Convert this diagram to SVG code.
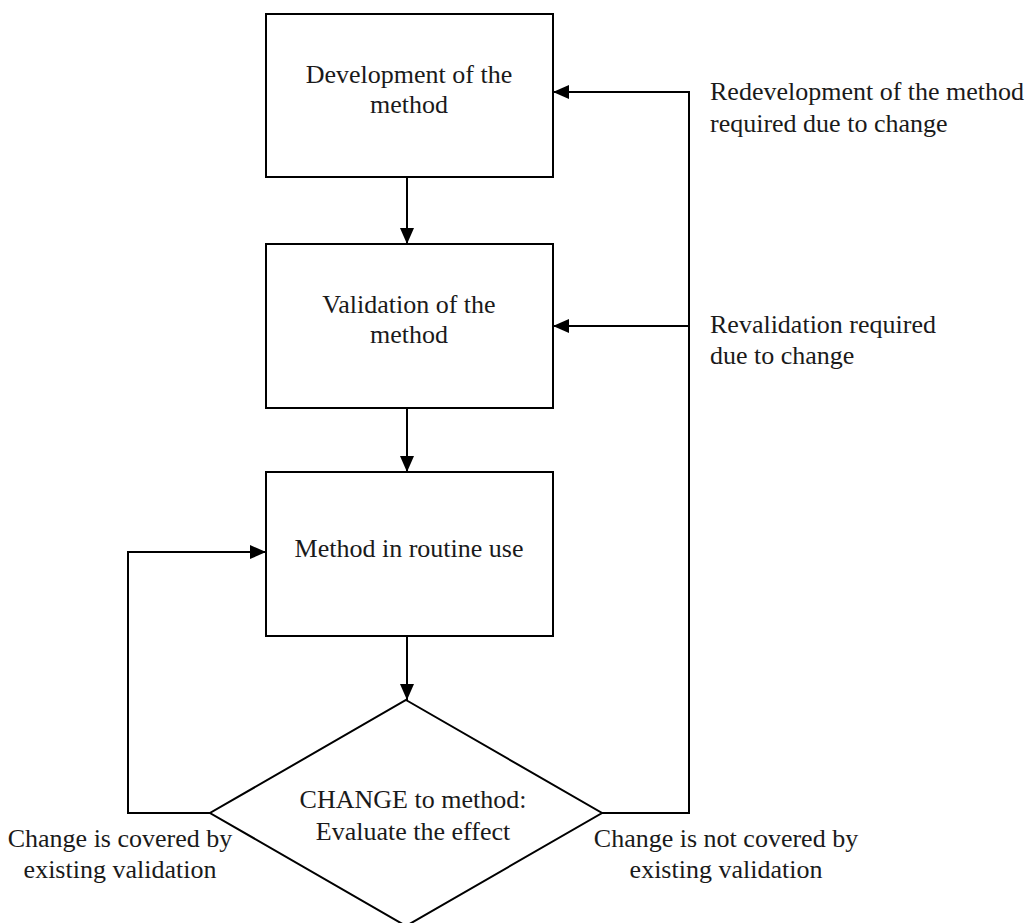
<svg xmlns="http://www.w3.org/2000/svg" width="1028" height="923" viewBox="0 0 1028 923">
<style>
.box{fill:#fff;stroke:#000;stroke-width:2}
.ln{fill:none;stroke:#000;stroke-width:2}
text{font-size:26px;fill:#1a1a1a}
.c{text-anchor:middle}
</style>
<defs>
<marker id="ah" markerUnits="userSpaceOnUse" markerWidth="16" markerHeight="14" refX="16" refY="7" orient="auto">
<path d="M0,0 L16,7 L0,14 z" fill="#000"/>
</marker>
</defs>
<rect width="1028" height="923" fill="#fff"/>
<g id="connectors">
<line class="ln" x1="407" y1="177" x2="407" y2="244" marker-end="url(#ah)"/>
<line class="ln" x1="407" y1="408" x2="407" y2="472" marker-end="url(#ah)"/>
<line class="ln" x1="407" y1="636" x2="407" y2="700" marker-end="url(#ah)"/>
<polyline class="ln" points="210,813 128,813 128,552 266,552" marker-end="url(#ah)"/>
<polyline class="ln" points="602,813 689,813 689,92 553,92" marker-end="url(#ah)"/>
<line class="ln" x1="689" y1="326" x2="553" y2="326" marker-end="url(#ah)"/>
</g>
<g font-family="Liberation Serif, Times New Roman, DejaVu Serif, serif">
<g id="node-development">
<rect class="box" x="266" y="14" width="287" height="163"/>
<text class="c" x="409" y="83">Development of the</text>
<text class="c" x="409" y="113">method</text>
</g>
<g id="node-validation">
<rect class="box" x="266" y="244" width="287" height="164"/>
<text class="c" x="409" y="313">Validation of the</text>
<text class="c" x="409" y="343">method</text>
</g>
<g id="node-routine">
<rect class="box" x="266" y="472" width="287" height="164"/>
<text class="c" x="409" y="557">Method in routine use</text>
</g>
<g id="node-change">
<polygon class="box" points="406,700 602,813 406,926 210,813"/>
<text class="c" x="413" y="808">CHANGE to method:</text>
<text class="c" x="413" y="840">Evaluate the effect</text>
</g>
<g id="labels">
<text x="710" y="100">Redevelopment of the method</text>
<text x="710" y="132">required due to change</text>
<text x="710" y="333">Revalidation required</text>
<text x="710" y="364">due to change</text>
<text class="c" x="120" y="847">Change is covered by</text>
<text class="c" x="120" y="878">existing validation</text>
<text class="c" x="726" y="847">Change is not covered by</text>
<text class="c" x="726" y="878">existing validation</text>
</g>
</g>
</svg>
